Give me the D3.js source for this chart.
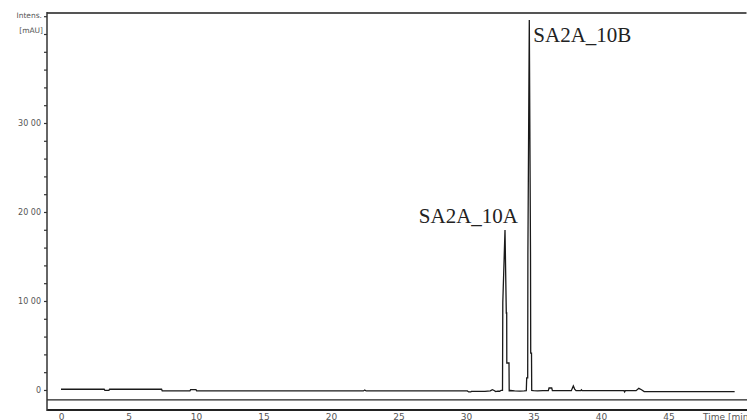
<!DOCTYPE html>
<html>
<head>
<meta charset="utf-8">
<script src="https://cdn.jsdelivr.net/npm/d3@7/dist/d3.min.js"></script>
<style>
  html, body { margin: 0; padding: 0; background: #fff; }
  svg { display: block; }
</style>
</head>
<body>
<svg id="chart" width="747" height="420"></svg>
<script>
// Chromatogram trace: retention time (min) and detector signal (mAU)
const times = [
  0, 3.2, 3.25, 3.55, 3.6, 7.45, 7.5, 9.55, 9.6, 10.0, 10.05,
  22.4, 22.5, 22.6, 30.1, 30.2, 30.35, 30.4, 31.4, 31.6, 31.8, 31.95,
  32.05, 32.2, 32.35, 32.5, 32.6, 32.704,
  32.726, 32.889, 32.985, 33.015, 33.022, 33.185, 33.2,
  33.3, 33.6, 34.0, 34.3, 34.467,
  34.496, 34.57, 34.585, 34.689, 34.778, 34.793, 34.852, 34.867,
  35.0, 35.3, 35.7, 36.1, 36.15, 36.35, 36.4, 37.8, 37.95, 38.05, 38.15,
  38.5, 38.55, 38.6, 41.7, 41.75, 41.8, 42.6, 42.8, 43.0, 43.2, 49.9
];
const intensities = [
  8, 8, -4, -4, 8, 8, -11, -11, 3, 3, -11,
  -11, -1, -11, -11, -22, -22, -16, -16, -12, -10, 4,
  -3, -18, -12, -14, -4, -5,
  980, 1798, 865, 865, 303, 303, -8,
  -6, -10, -12, -10, -8,
  135, 135, 1539, 4157, 1517, 415, 415, -5,
  -8, -10, -8, -8, 22, 22, -8, -8, 45, 10, -8,
  -8, 2, -8, -8, -22, -8, -8, 18, 2, -18, -18
];

// Named peaks
const peakNames = ["SA2A_10A", "SA2A_10B"];
const peakTimes = [32.889, 34.689];
const peakValues = [1798, 4157];

// Axis ticks
const xTicks = [0, 5, 10, 15, 20, 25, 30, 35, 40, 45];
const yMajorTicks = [0, 1000, 2000, 3000];
const yTickLabels = ["0", "10 00", "20 00", "30 00"];
const yMinorStep = 200;
const yMinorMax = 4200;

const svg = d3.select("#chart");
const frameLeft = 47, frameTop = 13, frameRight = 747, frameBottom = 410;

const x = d3.scaleLinear().domain([0, 50]).range([61, 736]);
const y = d3.scaleLinear().domain([-225, 4236]).range([frameBottom, frameTop]);

const axisColor = "#333";
const labelColor = "#555";
const tickFont = "DejaVu Sans, sans-serif";

// Frame: top border, inner baseline rule, bottom axis, left axis
svg.append("line")
  .attr("x1", frameLeft).attr("x2", frameRight - 0.5)
  .attr("y1", frameTop).attr("y2", frameTop)
  .attr("stroke", "#555").attr("stroke-width", 2);

svg.append("line")
  .attr("x1", frameLeft).attr("x2", frameRight)
  .attr("y1", y(-112)).attr("y2", y(-112))
  .attr("stroke", "#222").attr("stroke-width", 1.2);

svg.append("line")
  .attr("x1", frameLeft).attr("x2", frameRight)
  .attr("y1", frameBottom).attr("y2", frameBottom)
  .attr("stroke", "#222").attr("stroke-width", 2);

svg.append("line")
  .attr("x1", frameLeft).attr("x2", frameLeft)
  .attr("y1", frameTop - 1).attr("y2", frameBottom + 1)
  .attr("stroke", axisColor).attr("stroke-width", 1.5);

// Y axis ticks (minor every 200, labelled majors)
const yMinor = d3.range(0, yMinorMax + 1, yMinorStep);
const yAxis = d3.axisLeft(y)
  .tickValues(yMinor)
  .tickSize(3)
  .tickPadding(3)
  .tickFormat(d => {
    const i = yMajorTicks.indexOf(d);
    return i >= 0 ? yTickLabels[i] : "";
  });

const gy = svg.append("g").attr("transform", `translate(${frameLeft},0)`).call(yAxis);
gy.select(".domain").remove();
gy.selectAll(".tick line").attr("stroke", axisColor).attr("stroke-width", 1.2);
gy.selectAll(".tick text")
  .attr("fill", labelColor)
  .style("font-family", tickFont)
  .style("font-size", "8px");

// Y axis title
svg.append("text")
  .attr("x", 42).attr("y", 18)
  .attr("text-anchor", "end")
  .attr("fill", labelColor)
  .style("font-family", tickFont).style("font-size", "7.5px")
  .text("Intens.");
svg.append("text")
  .attr("x", 43).attr("y", 33)
  .attr("text-anchor", "end")
  .attr("fill", labelColor)
  .style("font-family", tickFont).style("font-size", "7.5px")
  .text("[mAU]");

// X axis tick labels
const xAxis = d3.axisBottom(x)
  .tickValues(xTicks)
  .tickSize(0)
  .tickPadding(0)
  .tickFormat(d3.format("d"));

const gx = svg.append("g").attr("transform", `translate(0,${frameBottom})`).call(xAxis);
gx.select(".domain").remove();
gx.selectAll(".tick text")
  .attr("dy", null)
  .attr("y", 9.5)
  .attr("fill", labelColor)
  .style("font-family", tickFont)
  .style("font-size", "9px");

svg.append("text")
  .attr("x", 703).attr("y", frameBottom + 9.5)
  .attr("fill", labelColor)
  .style("font-family", tickFont).style("font-size", "9px")
  .text("Time [min]");

// Signal trace
const trace = times.map((t, i) => [t, intensities[i]]);
const line = d3.line().x(d => x(d[0])).y(d => y(d[1]));

svg.append("path")
  .datum(trace)
  .attr("d", line)
  .attr("fill", "none")
  .attr("stroke", "#1a1a1a")
  .attr("stroke-width", 1.3)
  .attr("stroke-linejoin", "miter");

// Peak labels
const labelOffsets = [
  { dx: 13, dy: -7, anchor: "end" },
  { dx: 4, dy: 22, anchor: "start" }
];
svg.selectAll(".peak-label")
  .data(peakNames)
  .join("text")
  .attr("class", "peak-label")
  .attr("x", (d, i) => x(peakTimes[i]) + labelOffsets[i].dx)
  .attr("y", (d, i) => y(peakValues[i]) + labelOffsets[i].dy)
  .attr("text-anchor", (d, i) => labelOffsets[i].anchor)
  .attr("fill", "#222")
  .style("font-family", "Liberation Serif, serif")
  .style("font-size", "21px")
  .text(d => d);
</script>
</body>
</html>
